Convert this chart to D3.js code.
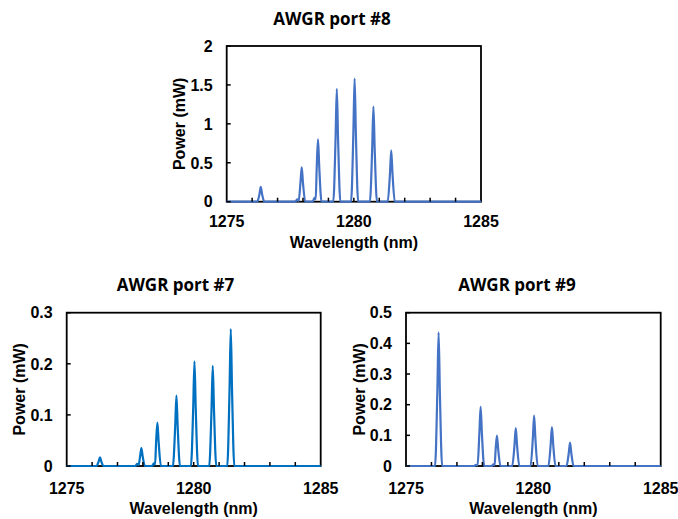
<!DOCTYPE html>
<html>
<head>
<meta charset="utf-8">
<script src="https://cdn.jsdelivr.net/npm/d3@7"></script>
<style>
  body { margin: 0; background: #fff; }
  .tick-label, .axis-title { font-family: "Liberation Sans", Arial, sans-serif; font-weight: bold; font-size: 16px; fill: #000; }
  .chart-title { font-family: "Open Sans", sans-serif; font-weight: bold; font-size: 17px; fill: #000; }
</style>
</head>
<body>
<svg id="fig" width="678" height="519"></svg>
<script>
// spectra, [wavelength nm, power mW]
var port8 = [
  [1275, 0],
  [1276.2, 0], [1276.29, 0.1], [1276.34, 0.19], [1276.39, 0.1], [1276.48, 0],
  [1277.7, 0], [1277.77, 0.03], [1277.83, 0.01], [1277.9, 0.24], [1277.95, 0.44], [1278.0, 0.24], [1278.09, 0],
  [1278.38, 0], [1278.45, 0.05], [1278.5, 0.03], [1278.54, 0.44], [1278.59, 0.8], [1278.64, 0.44], [1278.73, 0],
  [1279.19, 0], [1279.28, 0.8], [1279.33, 1.45], [1279.38, 0.8], [1279.47, 0],
  [1279.89, 0], [1279.98, 0.87], [1280.03, 1.58], [1280.08, 0.87], [1280.17, 0],
  [1280.63, 0], [1280.72, 0.67], [1280.77, 1.22], [1280.82, 0.67], [1280.91, 0],
  [1281.33, 0], [1281.42, 0.36], [1281.47, 0.66], [1281.52, 0.36], [1281.61, 0],
  [1285, 0]
];

var port7 = [
  [1275, 0],
  [1276.17, 0], [1276.26, 0.009], [1276.31, 0.017], [1276.36, 0.009], [1276.45, 0],
  [1277.7, 0], [1277.77, 0.004], [1277.83, 0.002], [1277.89, 0.019], [1277.94, 0.035], [1277.99, 0.019], [1278.08, 0],
  [1278.36, 0], [1278.43, 0.005], [1278.48, 0.003], [1278.52, 0.047], [1278.57, 0.085], [1278.62, 0.047], [1278.71, 0],
  [1279.18, 0], [1279.27, 0.076], [1279.32, 0.138], [1279.37, 0.076], [1279.46, 0],
  [1279.89, 0], [1279.98, 0.113], [1280.03, 0.205], [1280.08, 0.113], [1280.17, 0],
  [1280.61, 0], [1280.7, 0.108], [1280.75, 0.196], [1280.8, 0.108], [1280.89, 0],
  [1281.32, 0], [1281.41, 0.147], [1281.46, 0.268], [1281.51, 0.147], [1281.6, 0],
  [1285, 0]
];

var port9 = [
  [1275, 0],
  [1276.14, 0], [1276.23, 0.24], [1276.28, 0.436], [1276.33, 0.24], [1276.42, 0],
  [1277.68, 0], [1277.75, 0.004], [1277.81, 0.002], [1277.88, 0.106], [1277.93, 0.193], [1277.98, 0.106], [1278.07, 0],
  [1278.36, 0], [1278.43, 0.005], [1278.48, 0.003], [1278.52, 0.054], [1278.57, 0.099], [1278.62, 0.054], [1278.71, 0],
  [1279.17, 0], [1279.26, 0.068], [1279.31, 0.124], [1279.36, 0.068], [1279.45, 0],
  [1279.89, 0], [1279.98, 0.09], [1280.03, 0.164], [1280.08, 0.09], [1280.17, 0],
  [1280.59, 0], [1280.68, 0.07], [1280.73, 0.127], [1280.78, 0.07], [1280.87, 0],
  [1281.3, 0], [1281.39, 0.042], [1281.44, 0.076], [1281.49, 0.042], [1281.58, 0],
  [1285, 0]
];

var xDomain = [1275, 1285];
var xLabels = [1275, 1280, 1285];
var xMinor = [1276, 1277, 1278, 1279, 1280, 1281, 1282, 1283, 1284];
var yTicks8 = [0, 0.5, 1, 1.5, 2];
var yTicks7 = [0, 0.1, 0.2, 0.3];
var yTicks9 = [0, 0.1, 0.2, 0.3, 0.4, 0.5];

var panels = [
  { title: "AWGR port #8", data: port8, yTicks: yTicks8, color: "#4472C4",
    x0: 226.7, x1: 481, y0: 201.7, y1: 46, titleX: 332, titleY: 25,
    yTitleX: 185, xLabOff: 25.5, xTitleOff: 46.6 },
  { title: "AWGR port #7", data: port7, yTicks: yTicks7, color: "#0070C0",
    x0: 66.7, x1: 320.7, y0: 466, y1: 312.7, titleX: 175.5, titleY: 291,
    yTitleX: 25, xLabOff: 28, xTitleOff: 48 },
  { title: "AWGR port #9", data: port9, yTicks: yTicks9, color: "#4472C4",
    x0: 406, x1: 660.7, y0: 466, y1: 312.7, titleX: 517, titleY: 291,
    yTitleX: 365, xLabOff: 28, xTitleOff: 48 }
];

var svg = d3.select("#fig");
var fmt = d3.format("~g");

panels.forEach(function(p) {
  var x = d3.scaleLinear().domain(xDomain).range([p.x0, p.x1]);
  var y = d3.scaleLinear().domain([0, d3.max(p.yTicks)]).range([p.y0, p.y1]);
  var g = svg.append("g");

  // frame
  g.append("rect")
    .attr("x", p.x0).attr("y", p.y1)
    .attr("width", p.x1 - p.x0).attr("height", p.y0 - p.y1)
    .attr("fill", "none").attr("stroke", "#000").attr("stroke-width", 1.8);

  // spectrum (drawn over the frame, like the original)
  var line = d3.line()
    .x(function(d) { return x(d[0]); })
    .y(function(d) { return y(d[1]); })
    .curve(d3.curveMonotoneX);
  g.append("path")
    .datum(p.data)
    .attr("d", line)
    .attr("fill", "none")
    .attr("stroke", p.color)
    .attr("stroke-width", 2.2)
    .attr("stroke-linejoin", "round");

  // inside ticks
  g.selectAll(".xm").data(xMinor).enter().append("line")
    .attr("x1", x).attr("x2", x)
    .attr("y1", p.y0).attr("y2", p.y0 - 4)
    .attr("stroke", "#000").attr("stroke-width", 1.5);
  g.selectAll(".yt").data(p.yTicks).enter().append("line")
    .attr("x1", p.x0).attr("x2", p.x0 + 4)
    .attr("y1", y).attr("y2", y)
    .attr("stroke", "#000").attr("stroke-width", 1.5);

  // tick labels
  g.selectAll(".xl").data(xLabels).enter().append("text")
    .attr("class", "tick-label")
    .attr("x", x).attr("y", p.y0 + p.xLabOff)
    .attr("text-anchor", "middle")
    .text(function(d) { return d; });
  g.selectAll(".yl").data(p.yTicks).enter().append("text")
    .attr("class", "tick-label")
    .attr("x", p.x0 - 14).attr("y", y)
    .attr("dy", "0.36em")
    .attr("text-anchor", "end")
    .text(fmt);

  // titles
  g.append("text").attr("class", "axis-title")
    .attr("x", (p.x0 + p.x1) / 2).attr("y", p.y0 + p.xTitleOff)
    .attr("text-anchor", "middle")
    .text("Wavelength (nm)");
  g.append("text").attr("class", "axis-title")
    .attr("transform", "translate(" + p.yTitleX + "," + ((p.y0 + p.y1) / 2) + ") rotate(-90)")
    .attr("text-anchor", "middle")
    .text("Power (mW)");
  g.append("text").attr("class", "chart-title")
    .attr("x", p.titleX).attr("y", p.titleY)
    .attr("text-anchor", "middle")
    .text(p.title);
});
</script>
</body>
</html>
